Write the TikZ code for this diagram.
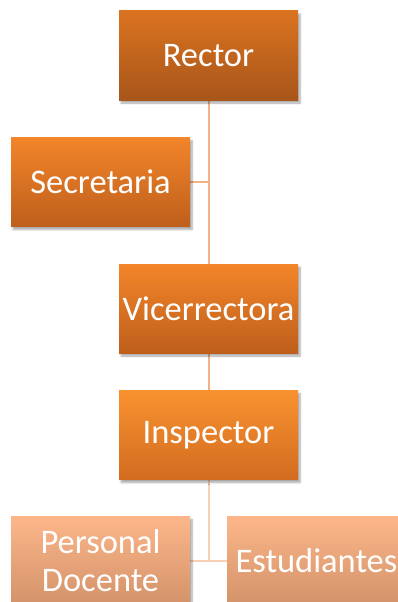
\documentclass[tikz,border=0pt]{standalone}
\usepackage{fontspec}
\setmainfont{Carlito}
\usetikzlibrary{shadows.blur,backgrounds}
\definecolor{lineA}{HTML}{F4B183}
\definecolor{lineB}{HTML}{F8D0B5}
\definecolor{DA7320}{HTML}{DA7320}
\definecolor{A8561A}{HTML}{A8561A}
\definecolor{F3852A}{HTML}{F3852A}
\definecolor{BE5F1C}{HTML}{BE5F1C}
\definecolor{F8922F}{HTML}{F8922F}
\definecolor{D36C20}{HTML}{D36C20}
\definecolor{FCB68A}{HTML}{FCB68A}
\definecolor{D39269}{HTML}{D39269}
\tikzset{
  box/.style={minimum width=179pt, minimum height=89pt, inner sep=0pt,
    text=white, font=\fontsize{34.5}{38}\selectfont, align=center,
    blur shadow={shadow xshift=2pt, shadow yshift=-3pt, shadow blur steps=6, shadow opacity=35}},
  darkbox/.style={box, top color=DA7320, bottom color=A8561A},
  midbox/.style={box, top color=F3852A, bottom color=BE5F1C},
  lightbox/.style={box, top color=F8922F, bottom color=D36C20},
  palebox/.style={box, top color=FCB68A, bottom color=D39269},
  conA/.style={draw=lineA, line width=2pt},
  conB/.style={draw=lineB, line width=2pt},
}
\begin{document}
\begin{tikzpicture}[x=1pt,y=-1pt]
\useasboundingbox (0,0) rectangle (398,602);
\node[darkbox] (rector) at (208.5,55.5) {Rector};
\node[midbox] (sec) at (100.5,182) {Secretaria};
\node[midbox] (vice) at (208.5,308.5) {Vicerrectora};
\node[lightbox] (insp) at (208.5,435) {Inspector};
\node[palebox] (pd) at (100.5,561) {Personal\\Docente};
\node[palebox] (est) at (316.5,561) {Estudiantes};
\coordinate (j1) at (rector.south |- sec.east);
\coordinate (j2) at (insp.south |- pd.east);
\begin{scope}[on background layer]
\draw[conA] (rector.south) -- (vice.north);
\draw[conA] (sec.east) -- (j1);
\draw[conA] (vice.south) -- (insp.north);
\draw[conB] (insp.south) -- (j2);
\draw[conB] (pd.east) -- (est.west);
\end{scope}
\end{tikzpicture}
\end{document}
